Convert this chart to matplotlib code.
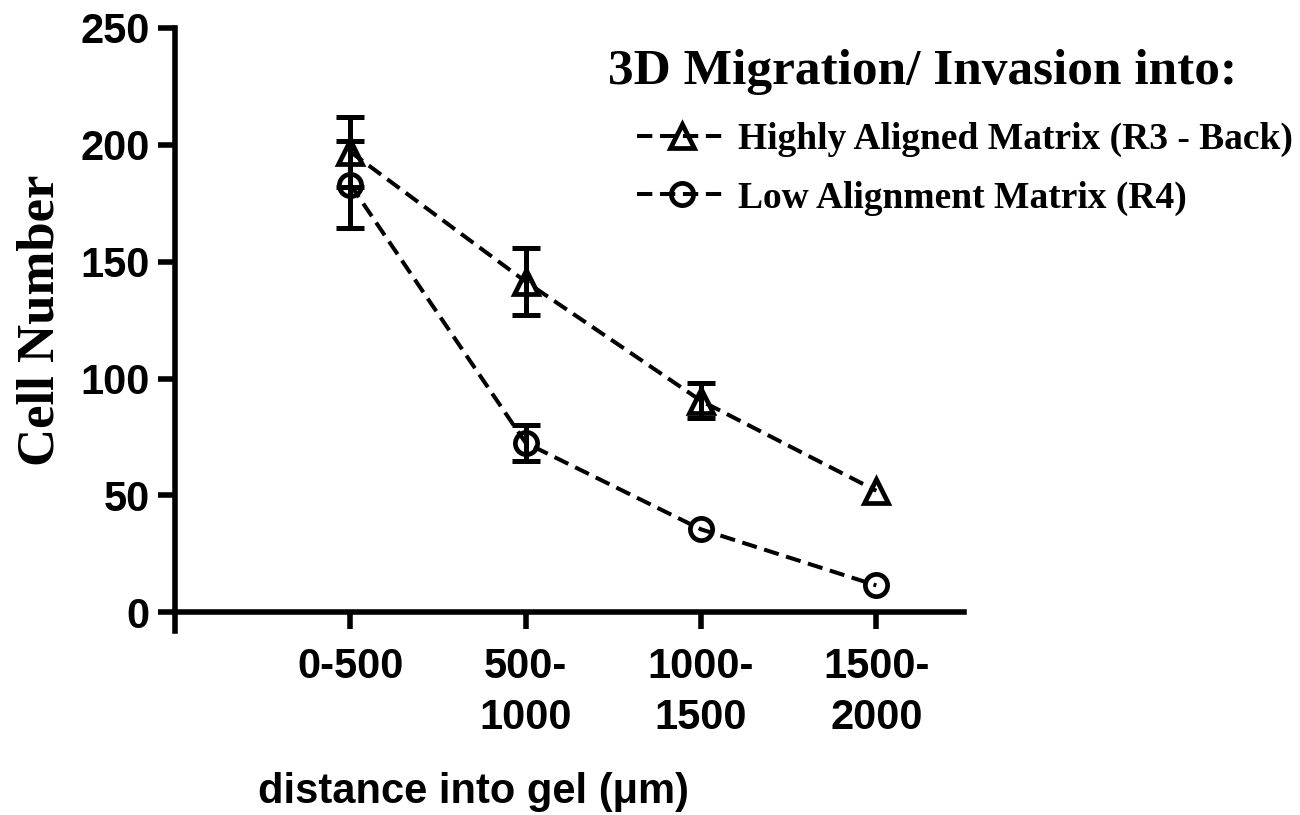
import numpy as np
import matplotlib
matplotlib.use('Agg')
import matplotlib.pyplot as plt

categories = ['0-500', '500-\n1000', '1000-\n1500', '1500-\n2000']
aligned_mean = [197, 141.5, 90.5, 52]
aligned_sem = [15, 14.5, 7.5, 0]
low_mean = [183, 72.5, 35.5, 11.5]
low_sem = [18.5, 7.7, 0, 0]
series_labels = ['Highly Aligned Matrix (R3 - Back)', 'Low Alignment Matrix (R4)']
y_ticks = [0, 50, 100, 150, 200, 250]

sans = 'Liberation Sans'
serif = 'Liberation Serif'
W, H = 1300, 815

fig = plt.figure(figsize=(13, 8.15), dpi=100)
# axes box in pixels: left 175, right 964, top 28, bottom 631
ax = fig.add_axes([175 / W, 1 - 631 / H, (964 - 175) / W, (631 - 28) / H])
x = np.arange(1, len(categories) + 1)

dash = (0, (3.8, 1.9))
for means, sems, mk, ms, lab in [(aligned_mean, aligned_sem, '^', 17, series_labels[0]),
                                 (low_mean, low_sem, 'o', 16, series_labels[1])]:
    means = np.array(means, dtype=float)
    sems = np.array(sems, dtype=float)
    show = sems > 0  # bars shorter than the symbol are not drawn
    ax.errorbar(x[show], means[show], yerr=sems[show], fmt='none', ecolor='black',
                elinewidth=3.6, capsize=10, capthick=3.6)
    ax.plot(x, means, linestyle=dash, color='black', lw=2.9, marker=mk, ms=ms,
            mfc='none', mec='black', mew=3.4, label=lab)

ax.set_xlim(0, 4.5)
ax.set_ylim(-8, 250)
ax.spines['top'].set_visible(False)
ax.spines['right'].set_visible(False)
ax.spines['bottom'].set_position(('data', 0))
for s in ['left', 'bottom']:
    ax.spines[s].set_linewidth(4)

ax.set_xticks(x)
ax.set_xticklabels(categories, family=sans, weight='bold', size=30, linespacing=1.35)
ax.set_yticks(y_ticks)
ax.set_yticklabels([str(v) for v in y_ticks], family=sans, weight='bold', size=30)
ax.tick_params(axis='both', length=12, width=4, direction='out')
ax.tick_params(axis='x', pad=13)
ax.tick_params(axis='y', pad=6)

ax.set_ylabel('Cell Number', family=serif, weight='bold', size=38, va='center')
ax.yaxis.set_label_coords((40 - 175) / 789, (631 - 320) / 603)
ax.set_xlabel('distance into gel (μm)', family=sans, weight='bold', size=30, va='center')
ax.xaxis.set_label_coords((474 - 175) / 789, (631 - 792) / 603)

fig.text(608 / W, 1 - 72 / H, '3D Migration/ Invasion into:', family=serif, weight='bold',
         size=37, va='center')
ax.legend(loc='upper left', bbox_to_anchor=(637 / W, 1 - 122 / H), bbox_transform=fig.transFigure,
          frameon=False, prop={'family': serif, 'weight': 'bold', 'size': 27},
          handlelength=2.4, handletextpad=0.3, labelspacing=0.62, borderpad=0, borderaxespad=0)

fig.savefig('out.png', dpi=100)
